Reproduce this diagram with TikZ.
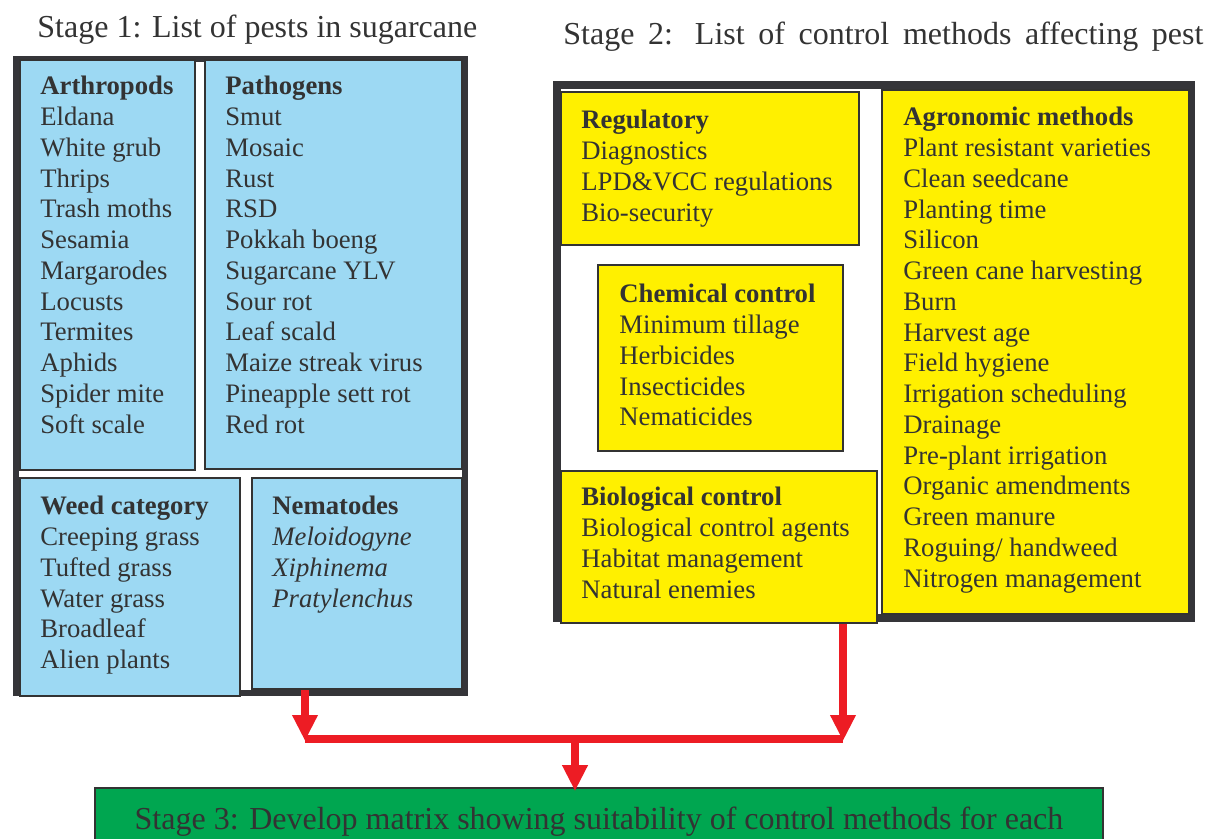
\documentclass[tikz,border=0pt]{standalone}
\usepackage{fontspec}
\setmainfont{Liberation Serif}
\usetikzlibrary{fit,arrows.meta}
\definecolor{pestblue}{HTML}{9DD9F3}
\definecolor{ctrlyellow}{HTML}{FFF000}
\definecolor{stagegreen}{HTML}{00A650}
\definecolor{arrowred}{HTML}{ED1C24}
\definecolor{framegray}{HTML}{353539}
\definecolor{inkgray}{HTML}{333333}
\begin{document}
\begin{tikzpicture}[x=0.5pt,y=-0.5pt,
    every node/.style={text=inkgray},
    titletext/.style={font=\fontsize{16}{19}\selectfont,inner sep=0,anchor=base west},
    listtext/.style={font=\fontsize{13.35}{15.37}\selectfont,align=left,inner sep=0,anchor=north west},
    panel/.style={draw=framegray,fill=white},
    pestbox/.style={draw=inkgray,line width=0.8pt,fill=pestblue,inner sep=0},
    ctrlbox/.style={draw=inkgray,line width=0.8pt,fill=ctrlyellow,inner sep=0},
    redline/.style={draw=arrowred,line width=4pt},
    redarrow/.style={redline,-{Triangle[width=12pt,length=13pt]},arrowred}]
    \useasboundingbox (0,0) rectangle (1208,839);
    \clip (0,0) rectangle (1208,839);
    %% Stage 1: pests
    \node[titletext] (title1) at (37,38) {Stage 1: List of pests in sugarcane};
    \draw[panel,line width=3pt] (16,59) rectangle (464.5,692.5);
    \node[pestbox,fit={(20,60) (195,470)}] (arth) {};
    \node[pestbox,fit={(205,60) (462,469)}] (path) {};
    \node[pestbox,fit={(20,478) (240,696)}] (weed) {};
    \node[pestbox,fit={(252,478) (462,689)}] (nema) {};
    \node[listtext] (arthtext) at (40,76) {\textbf{Arthropods}\\Eldana\\White grub\\Thrips\\Trash moths\\Sesamia\\Margarodes\\Locusts\\Termites\\Aphids\\Spider mite\\Soft scale};
    \node[listtext] (pathtext) at (225,76) {\textbf{Pathogens}\\Smut\\Mosaic\\Rust\\RSD\\Pokkah boeng\\Sugarcane YLV\\Sour rot\\Leaf scald\\Maize streak virus\\Pineapple sett rot\\Red rot};
    \node[listtext] (weedtext) at (40,496) {\textbf{Weed category}\\Creeping grass\\Tufted grass\\Water grass\\Broadleaf\\Alien plants};
    \node[listtext] (nematext) at (272,496) {\textbf{Nematodes}\\\textit{Meloidogyne}\\\textit{Xiphinema}\\\textit{Pratylenchus}};
    %% Stage 2: control methods
    \node[titletext] (title2) at (563,45) {\makebox[320pt][s]{Stage 2: List of control methods affecting pest}};
    \draw[panel,line width=4pt] (557,85) rectangle (1191,618);
    \node[ctrlbox,fit={(561,92) (859,245)}] (reg) {};
    \node[ctrlbox,fit={(598,265) (843,451)}] (chem) {};
    \node[ctrlbox,fit={(561,471) (877,623)}] (bio) {};
    \node[ctrlbox,fit={(882,90) (1189,614)}] (agro) {};
    \node[listtext] (regtext) at (581,110) {\textbf{Regulatory}\\Diagnostics\\LPD\&VCC regulations\\Bio-security};
    \node[listtext] (chemtext) at (619,284) {\textbf{Chemical control}\\Minimum tillage\\Herbicides\\Insecticides\\Nematicides};
    \node[listtext] (biotext) at (581,487) {\textbf{Biological control}\\Biological control agents\\Habitat management\\Natural enemies};
    \node[listtext] (agrotext) at (903,107) {\textbf{Agronomic methods}\\Plant resistant varieties\\Clean seedcane\\Planting time\\Silicon\\Green cane harvesting\\Burn\\Harvest age\\Field hygiene\\Irrigation scheduling\\Drainage\\Pre-plant irrigation\\Organic amendments\\Green manure\\Roguing/ handweed\\Nitrogen management};
    %% Stage 3: matrix
    \node[draw=inkgray,line width=0.8pt,fill=stagegreen,inner sep=0,fit={(95,788) (1103,880)}] (stage3) {};
    \node[titletext,anchor=base] (stage3text) at (599,829) {Stage 3: Develop matrix showing suitability of control methods for each};
    %% Joining arrows
    \coordinate (lc) at (305,741);
    \coordinate (rc) at (843,741);
    \coordinate (mc) at (575,739);
    \draw[redline] (lc |- mc) -- (rc |- mc);
    \draw[redarrow] (nema.south -| lc) -- (lc);
    \draw[redarrow] (bio.south -| rc) -- (rc);
    \draw[redarrow] (mc) -- ([yshift=-2pt]stage3.north -| mc);
\end{tikzpicture}
\end{document}
